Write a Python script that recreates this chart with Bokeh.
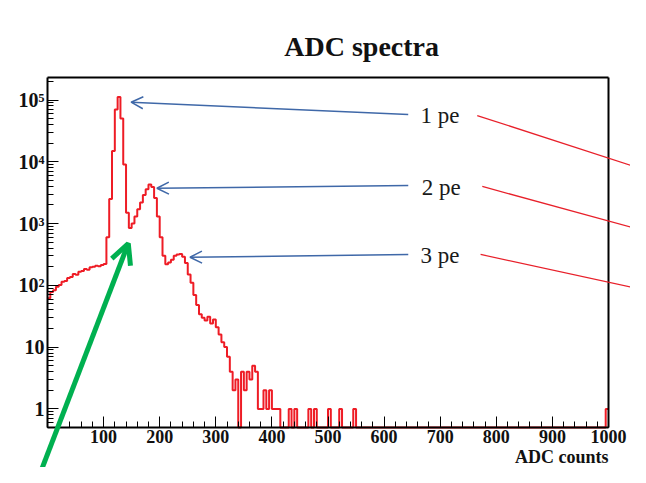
from bokeh.plotting import figure
from bokeh.models import (Range1d, SingleIntervalTicker, LogTicker, FixedTicker, Label, Arrow,
                          OpenHead, LinearAxis, LogAxis)
from bokeh.embed import file_html
from bokeh.resources import INLINE

# ---------------- data ----------------
bin_width = 5
# counts per 5-ADC bin, from 0 to 560 ADC
counts = [62, 78, 83, 95, 101, 114, 118, 131, 137, 152,
          149, 166, 170, 184, 178, 196, 199, 208, 203, 214,
          222, 600, 2500, 15000, 70000, 112000, 50000, 9000, 1500, 850,
          1000, 1300, 1700, 2200, 2900, 3600, 4300, 3900, 2600, 1300,
          600, 300, 220, 235, 260, 300, 315, 320, 290, 230,
          150, 110, 70, 48, 34, 30, 27, 31, 24, 28,
          21, 16, 12, 10, 7, 4, 2, 3, 0, 4,
          2, 4, 3, 5, 4, 1, 1, 2, 1, 2,
          1, 1, 1, 0, 0, 0, 1, 0, 1, 0,
          0, 0, 0, 1, 0, 1, 0, 0, 0, 0,
          1, 0, 0, 0, 1, 0, 0, 0, 0, 1,
          0, 0]
last_bin_low = 995      # one isolated count in the last bin
last_bin_count = 1

x_lo, x_hi = 0, 1000            # histogram / axis extent
y_lo, y_hi = 0.5, 2.3e5         # frame extent (log)
x_tick_labels = {0: ""}
y_tick_labels = {1: "1", 10: "10", 100: "10²", 1000: "10³", 10000: "10⁴", 100000: "10⁵"}

title_text = "ADC spectra"
x_title = "ADC counts"
pe_labels = ["1 pe", "2 pe", "3 pe"]
pe_label_pos = [(665, 56100), (667, 3840), (665, 304)]
# blue arrows: (tail x, tail y, head x, head y) in data units
blue_arrows = [(643, 58200, 149, 92100),
               (643, 4130, 195, 3730),
               (643, 316, 254, 285)]
# red lines from the labels towards the right edge
red_lines = [(766, 56100, 1068, 7230),
             (775, 3980, 1068, 744),
             (772, 316, 1068, 82.5)]
# green arrow (tail -> head)
green_arrow = (-18, 0.0693, 144, 476)

# ---------------- build ----------------
full = counts + [0] * (int(last_bin_low / bin_width) - len(counts)) + [last_bin_count]
xs = [i * bin_width for i in range(len(full))] + [x_hi]
ys = [c if c > 0 else y_lo for c in full]   # empty bins drop to the frame bottom
ys = ys + [ys[-1]]

p = figure(width=630, height=467, y_axis_type="log", title=None,
           x_range=Range1d(-83.78, 1039.2), y_range=Range1d(0.1125, 4.08e6),
           output_backend="svg", toolbar_location=None,
           min_border=0, min_border_left=0, min_border_right=0,
           min_border_top=0, min_border_bottom=0)
p.background_fill_color = "white"
p.border_fill_color = "white"
p.outline_line_color = None
p.xgrid.visible = False
p.ygrid.visible = False

p.step(xs, ys, mode="after", line_color="#ee1c25", line_width=2)

serif = "Liberation Serif"
xa = p.xaxis[0]
ya = p.yaxis[0]
xa.fixed_location = y_lo
xa.bounds = (x_lo, x_hi)
ya.fixed_location = x_lo
ya.bounds = (y_lo, y_hi)
for ax in (xa, ya):
    ax.axis_line_color = "black"
    ax.axis_line_width = 2
    ax.major_tick_in = 11
    ax.major_tick_out = 0
    ax.minor_tick_in = 6
    ax.minor_tick_out = 0
    ax.major_tick_line_color = "black"
    ax.minor_tick_line_color = "black"
    ax.major_label_text_font = serif
    ax.major_label_text_font_style = "bold"
    ax.major_label_text_color = "#111111"

xa.ticker = SingleIntervalTicker(interval=100, num_minor_ticks=5)
xa.major_label_overrides = x_tick_labels
xa.major_label_standoff = 3
xa.major_label_text_font_size = "18px"
ya.ticker = LogTicker(mantissas=[1], num_minor_ticks=10, desired_num_ticks=6)
ya.major_label_overrides = y_tick_labels
ya.major_label_standoff = 3
ya.major_label_text_font_size = "20px"

# top and right sides of the frame box
top_axis = LinearAxis(fixed_location=y_hi, bounds=(x_lo, x_hi), ticker=FixedTicker(ticks=[]),
                      axis_line_color="black", axis_line_width=2,
                      major_tick_line_color=None, minor_tick_line_color=None)
right_axis = LogAxis(fixed_location=x_hi, bounds=(y_lo, y_hi), ticker=FixedTicker(ticks=[]),
                     axis_line_color="black", axis_line_width=2,
                     major_tick_line_color=None, minor_tick_line_color=None)
p.add_layout(top_axis, "above")
p.add_layout(right_axis, "right")

p.add_layout(Label(x=560, y=7.45e5, text=title_text, text_font=serif, text_font_style="bold",
                   text_font_size="28px", text_align="center", text_baseline="middle",
                   text_color="#111111"))
p.add_layout(Label(x=x_hi, y=0.167, text=x_title, text_font=serif, text_font_style="bold",
                   text_font_size="18px", text_align="right", text_baseline="middle",
                   text_color="#111111"))

for (lx, ly), t in zip(pe_label_pos, pe_labels):
    p.add_layout(Label(x=lx, y=ly, text=t, text_font=serif, text_font_size="23px",
                       text_align="left", text_baseline="middle", text_color="#1a1a1a"))

for (x0, y0, x1, y1) in blue_arrows:
    p.add_layout(Arrow(x_start=x0, y_start=y0, x_end=x1, y_end=y1,
                       line_color="#3f68a8", line_width=1.5,
                       end=OpenHead(size=12, line_color="#3f68a8", line_width=1.5)))

for (x0, y0, x1, y1) in red_lines:
    p.add_layout(Arrow(x_start=x0, y_start=y0, x_end=x1, y_end=y1, end=None,
                       line_color="#e8202a", line_width=1.3))

gx0, gy0, gx1, gy1 = green_arrow
p.add_layout(Arrow(x_start=gx0, y_start=gy0, x_end=gx1, y_end=gy1,
                   line_color="#00b050", line_width=5,
                   end=OpenHead(size=20, line_color="#00b050", line_width=5)))

open("out.html", "w").write(file_html(p, INLINE))
